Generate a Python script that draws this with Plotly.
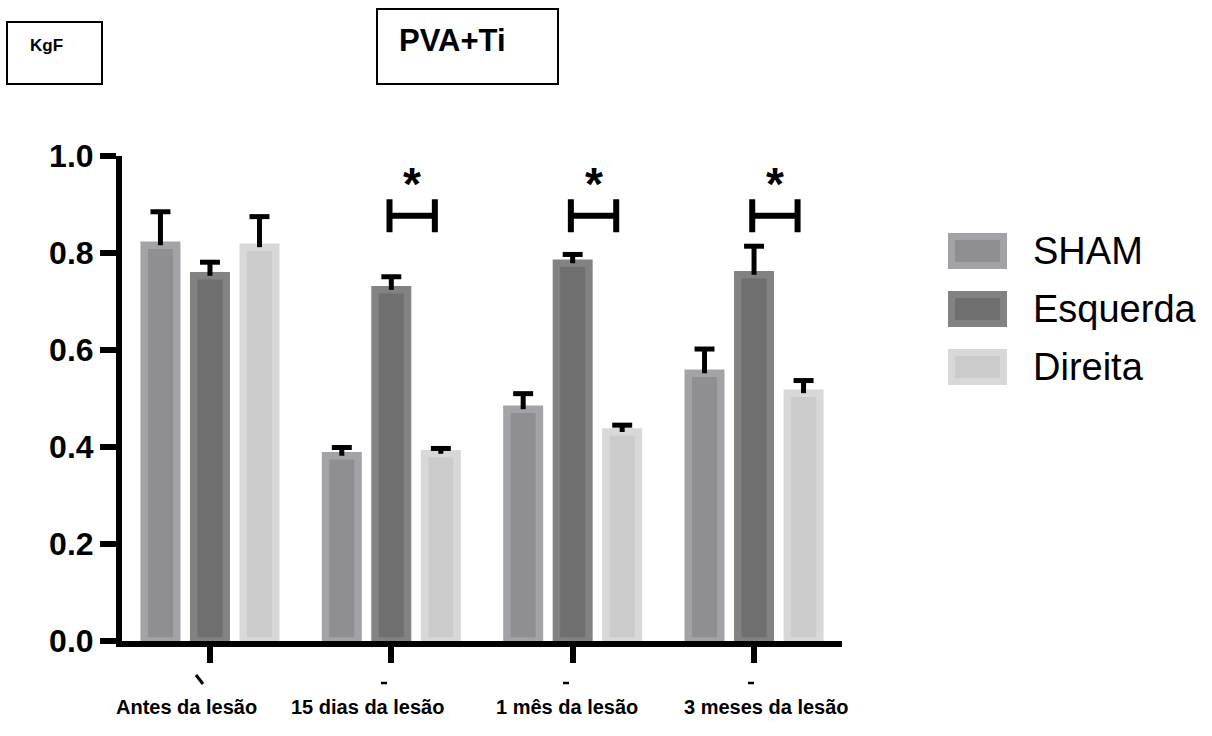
import plotly.graph_objects as go

# ---------------- data ----------------
categories = ["Antes da lesão", "15 dias da lesão", "1 mês da lesão", "3 meses da lesão"]
series_names = ["SHAM", "Esquerda", "Direita"]
sham = [0.816, 0.382, 0.478, 0.552]
sham_err = [0.069, 0.017, 0.032, 0.050]
esquerda = [0.753, 0.724, 0.779, 0.755]
esquerda_err = [0.028, 0.027, 0.018, 0.059]
direita = [0.812, 0.386, 0.431, 0.511]
direita_err = [0.063, 0.011, 0.014, 0.026]
y_ticks = [0.0, 0.2, 0.4, 0.6, 0.8, 1.0]
sig_groups = [1, 2, 3]
sig_level = 0.877
unit_label = "KgF"
title_label = "PVA+Ti"

# ---------------- styles ----------------
fills = ["#8f8f93", "#6f6f6f", "#cbcbcb"]
edges = ["#a3a3a7", "#828282", "#d8d8d8"]
FONT = "Liberation Sans, Arial, sans-serif"
BARGAP, BARGROUPGAP = 0.181, 0.344
CAP = 0.055  # half cap width in category units

W, H = 1212, 736
L, R, T, B = 122, 370, 156, 95
PW, PH = W - L - R, H - T - B


def px(x):
    return (x - L) / PW


def py(y):
    return (H - B - y) / PH


xpos = list(range(len(categories)))
all_vals = [sham, esquerda, direita]
all_errs = [sham_err, esquerda_err, direita_err]
n = len(series_names)
slot = (1 - BARGAP) / n

fig = go.Figure()
for name, vals, fc, ec in zip(series_names, all_vals, fills, edges):
    fig.add_trace(go.Bar(
        x=xpos, y=vals, name=name,
        marker=dict(color=fc, line=dict(color=ec, width=7.5)),
        showlegend=False, hoverinfo="skip",
    ))

# upper-only error bars (T shape) drawn as line traces on top of bars
for k, (vals, errs) in enumerate(zip(all_vals, all_errs)):
    off = (k - (n - 1) / 2) * slot
    ex, ey = [], []
    for i, (v, e) in enumerate(zip(vals, errs)):
        xc = xpos[i] + off
        ex += [xc, xc, None, xc - CAP, xc + CAP, None]
        ey += [v, v + e, None, v + e, v + e, None]
    fig.add_trace(go.Scatter(x=ex, y=ey, mode="lines", line=dict(color="black", width=5),
                             showlegend=False, hoverinfo="skip"))

shapes = []
annotations = []

# significance brackets
for g in sig_groups:
    x1, x2 = g - 0.01, g + 0.24
    d = 0.034
    shapes.append(dict(type="path", xref="x", yref="y",
                       path=f"M {x1},{sig_level - d} L {x1},{sig_level + d} M {x1},{sig_level} L {x2},{sig_level} "
                            f"M {x2},{sig_level - d} L {x2},{sig_level + d}",
                       line=dict(color="black", width=6)))
    annotations.append(dict(x=g + 0.115, y=sig_level + 0.066, xref="x", yref="y", text="<b>*</b>",
                            showarrow=False, font=dict(family=FONT, size=46, color="black"),
                            xanchor="center", yanchor="middle"))

# category labels (placed below axis)
label_centers = [186, 367, 567, 766]
for lab, cx in zip(categories, label_centers):
    annotations.append(dict(x=px(cx), y=py(707), xref="paper", yref="paper", text=f"<b>{lab}</b>",
                            showarrow=False, font=dict(family=FONT, size=20, color="black"),
                            xanchor="center", yanchor="middle"))

# small remnant marks below ticks
shapes.append(dict(type="line", xref="paper", yref="paper", x0=px(196), y0=py(675), x1=px(203), y1=py(684),
                   line=dict(color="black", width=3)))
for mx in [384, 566, 751]:
    shapes.append(dict(type="line", xref="paper", yref="paper", x0=px(mx - 3), y0=py(683), x1=px(mx + 3),
                       y1=py(683), line=dict(color="black", width=2.5)))

# legend (manual)
leg_tops = [233, 291, 349]
for name, fc, ec, top in zip(series_names, fills, edges, leg_tops):
    shapes.append(dict(type="rect", xref="paper", yref="paper",
                       x0=px(951.5), x1=px(1003.5), y0=py(top + 3.5), y1=py(top + 32.5),
                       fillcolor=fc, line=dict(color=ec, width=7)))
    annotations.append(dict(x=px(1031), y=py(top + 18), xref="paper", yref="paper", text=name,
                            showarrow=False, font=dict(family=FONT, size=38, color="black"),
                            xanchor="left", yanchor="middle"))

# header boxes
shapes.append(dict(type="rect", xref="paper", yref="paper", x0=px(7), x1=px(102), y0=py(22), y1=py(84),
                   line=dict(color="black", width=2), fillcolor="rgba(0,0,0,0)"))
shapes.append(dict(type="rect", xref="paper", yref="paper", x0=px(377), x1=px(558), y0=py(9), y1=py(84),
                   line=dict(color="black", width=2), fillcolor="rgba(0,0,0,0)"))
annotations.append(dict(x=px(28), y=py(46), xref="paper", yref="paper", text=f"<b>{unit_label}</b>",
                        showarrow=False, font=dict(family=FONT, size=17, color="black"),
                        xanchor="left", yanchor="middle"))
annotations.append(dict(x=px(397), y=py(41), xref="paper", yref="paper", text=f"<b>{title_label}</b>",
                        showarrow=False, font=dict(family=FONT, size=31, color="black"),
                        xanchor="left", yanchor="middle"))

fig.update_layout(
    width=W, height=H,
    margin=dict(l=L, r=R, t=T, b=B, pad=0),
    paper_bgcolor="white", plot_bgcolor="white",
    barmode="group", bargap=BARGAP, bargroupgap=BARGROUPGAP,
    shapes=shapes, annotations=annotations,
    showlegend=False,
)
fig.update_xaxes(range=[-0.485, 3.485], tickvals=xpos, showticklabels=False,
                 ticks="outside", ticklen=16, tickwidth=6, tickcolor="black",
                 showline=True, linewidth=6, linecolor="black",
                 showgrid=False, zeroline=False)
fig.update_yaxes(range=[0, 1.0], tickvals=y_ticks, tickformat=".1f",
                 ticks="outside", ticklen=16, tickwidth=6, tickcolor="black",
                 showline=True, linewidth=6, linecolor="black",
                 showgrid=False, zeroline=False,
                 tickfont=dict(family=FONT, size=32, color="black", weight="bold"))

fig.write_html("out.html")
